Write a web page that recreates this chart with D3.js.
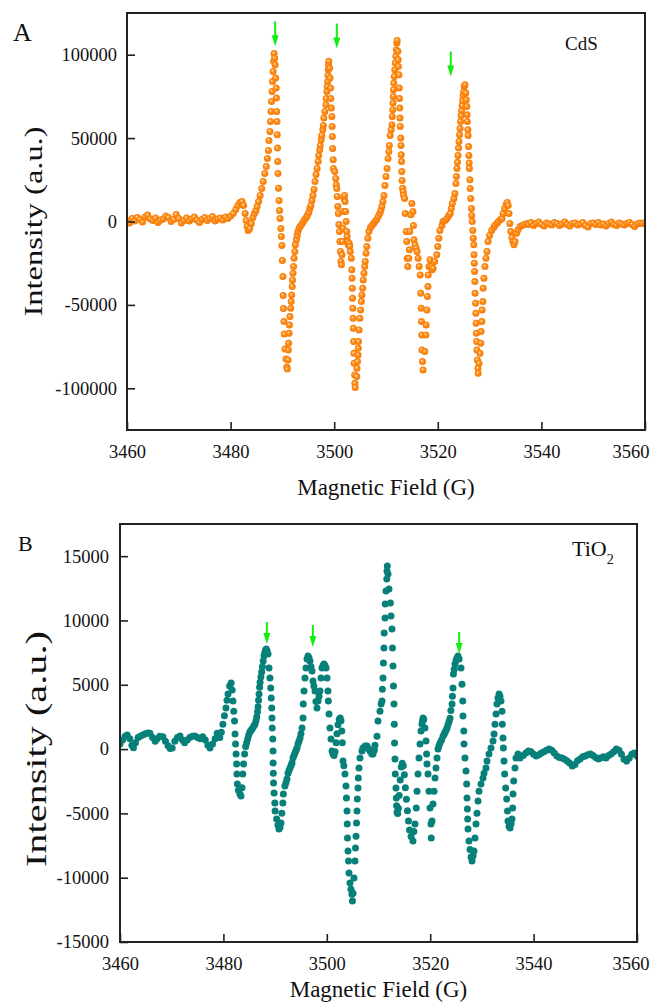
<!DOCTYPE html>
<html>
<head>
<meta charset="utf-8">
<script src="https://cdn.jsdelivr.net/npm/d3@7"></script>
<style>
  html, body { margin: 0; padding: 0; background: #fff; }
  svg text { font-family: "Liberation Serif", "Times New Roman", serif; fill: #111; }
</style>
</head>
<body>
<svg id="chart" width="651" height="1003"></svg>
<script>
// x axis (magnetic field, G)
var fieldTicks = [3460, 3480, 3500, 3520, 3540, 3560];

// panel A : CdS spectrum, [field (G), intensity (a.u.)]
var cdsTicks = [-100000, -50000, 0, 50000, 100000];
var cdsPoints = [
  [3460.0,600],[3460.5,-900],[3461.0,1800],[3461.5,300],[3462.0,2400],[3462.5,1200],[3463.0,-300],[3463.5,2700],
  [3464.0,3900],[3464.5,1500],[3465.0,600],[3465.5,2100],[3466.0,-600],[3466.5,900],[3467.0,1500],[3467.5,3300],
  [3468.0,2400],[3468.5,0],[3469.0,1200],[3469.5,4200],[3470.0,1800],[3470.5,-900],[3471.0,600],[3471.5,2100],
  [3472.0,300],[3472.5,1500],[3473.0,2700],[3473.5,900],[3474.0,-600],[3474.5,1200],[3475.0,2400],[3475.5,600],
  [3476.0,1800],[3476.5,3000],[3477.0,300],[3477.5,1500],[3478.0,2100],[3478.5,900],[3479.0,2700],[3479.5,1800],
  [3480.0,3300],[3480.5,4800],[3481.0,7200],
  [3481.4,9600],[3481.8,11400],[3482.2,12000],[3482.5,9600],[3482.8,4800],[3483.0,600],[3483.2,-3000],[3483.4,-5400],
  [3483.7,-4200],[3484.0,-1200],[3484.3,2400],[3484.6,4800],[3484.9,6600],[3485.1,9000],[3485.4,12000],[3485.7,15600],
  [3486.0,19800],[3486.3,24000],[3486.6,28800],[3486.9,33000],[3487.1,37800],[3487.3,42600],[3487.4,48600],[3487.6,54000],
  [3487.7,60000],[3487.8,66000],[3487.9,72000],[3488.0,78000],[3488.1,84000],[3488.2,90000],[3488.3,96000],[3488.4,100700],
  [3488.5,98000],[3488.6,94000],[3488.7,86000],[3488.8,80000],[3488.85,74000],[3488.9,66000],[3488.95,60000],[3489.0,52000],
  [3489.05,44000],[3489.1,36000],[3489.15,28800],[3489.25,20000],[3489.35,12600],[3489.45,6600],[3489.55,1800],[3489.7,-4200],
  [3489.8,-9000],[3489.9,-14400],[3490.0,-23400],[3490.1,-33000],[3490.15,-44400],[3490.2,-52200],[3490.3,-60000],[3490.35,-67500],
  [3490.5,-76500],[3490.7,-82500],[3490.85,-87300],[3490.95,-88500],
  [3491.1,-83000],[3491.15,-77000],[3491.2,-73000],[3491.3,-67000],[3491.35,-62000],[3491.45,-57000],[3491.6,-52000],[3491.7,-48000],
  [3491.8,-44000],[3491.9,-39000],[3491.95,-35000],[3492.05,-31000],[3492.15,-27000],[3492.25,-22000],[3492.4,-18000],[3492.5,-14000],
  [3492.7,-11000],[3492.85,-8400],[3493.0,-6000],[3493.2,-4200],[3493.4,-3000],[3493.7,-1800],[3494.0,-300],[3494.3,1200],
  [3494.6,2400],[3494.8,3600],[3495.1,5400],[3495.3,7800],[3495.5,9600],[3495.7,12600],[3495.9,15600],[3496.1,19200],
  [3496.3,24000],[3496.5,28200],[3496.7,31800],[3496.9,36000],[3497.0,39600],[3497.2,43000],[3497.3,45600],[3497.5,49000],
  [3497.6,51600],[3497.8,55000],[3497.9,57600],[3498.0,62000],[3498.2,66000],[3498.4,70000],[3498.45,73700],[3498.6,78000],
  [3498.65,81000],[3498.75,84000],[3498.8,87500],[3498.85,91000],[3498.9,94000],[3498.95,96000],
  [3499.1,92000],[3499.2,86000],[3499.3,80000],[3499.35,73700],[3499.45,68000],[3499.55,63000],[3499.6,57000],[3499.65,51000],
  [3499.7,43800],[3499.8,37000],[3499.85,31800],[3500.1,30000],[3500.3,25800],[3500.4,22000],[3500.5,19800],[3500.6,15000],
  [3500.7,9000],[3500.8,4800],[3500.9,-1800],[3501.0,-6000],[3501.1,-12000],[3501.2,-18000],[3501.3,-24000],[3501.4,-26000],
  [3501.5,-20000],[3501.6,-12000],[3501.7,-4000],[3501.8,6000],[3501.9,13800],[3502.0,15600],[3502.1,12000],[3502.2,6000],
  [3502.3,0],[3502.4,-6000],[3502.5,-9000],[3502.6,-12000],[3502.7,-14000],[3502.9,-13000],[3503.0,-15000],[3503.1,-18000],
  [3503.3,-22000],[3503.4,-29000],[3503.45,-34000],[3503.5,-40000],[3503.55,-46000],[3503.6,-52000],[3503.65,-58000],[3503.7,-64000],
  [3503.75,-72000],[3503.8,-79000],[3503.85,-85000],[3503.95,-92000],[3504.0,-97000],[3504.05,-99500],
  [3504.35,-93000],[3504.4,-88000],[3504.5,-84000],[3504.6,-80000],[3504.65,-76000],[3504.7,-72000],[3504.8,-65000],[3504.95,-58000],
  [3505.1,-53000],[3505.25,-48000],[3505.35,-44000],[3505.5,-40000],[3505.6,-35000],[3505.75,-31000],[3505.9,-27000],[3506.0,-24000],
  [3506.15,-19000],[3506.3,-15000],[3506.5,-10000],[3506.7,-6000],[3507.0,-3600],[3507.3,-2400],[3507.6,-1200],[3507.9,0],
  [3508.2,1200],[3508.5,3000],[3508.8,4800],[3509.0,6600],[3509.2,9000],[3509.4,12000],[3509.6,15600],[3509.8,21600],
  [3510.0,27000],[3510.2,31800],[3510.4,37800],[3510.55,42000],[3510.65,45600],[3510.8,51600],[3511.0,55000],[3511.15,58000],
  [3511.2,63000],[3511.3,67000],[3511.35,71000],[3511.4,75000],[3511.45,79000],[3511.5,83000],[3511.6,87000],[3511.7,91000],
  [3511.8,95000],[3511.9,99000],[3512.0,103000],[3512.1,107000],[3512.15,108500],
  [3512.3,102000],[3512.35,97000],[3512.4,93000],[3512.5,88000],[3512.55,80000],[3512.6,73700],[3512.65,68000],[3512.7,62000],
  [3512.75,57000],[3512.85,50000],[3512.9,45600],[3512.95,40000],[3513.0,36000],[3513.05,30000],[3513.1,24600],[3513.2,20000],
  [3513.3,18000],[3513.4,15600],[3513.6,13800],[3513.7,4800],[3513.9,-6000],[3514.0,-12000],[3514.1,-22000],[3514.2,-27000],
  [3514.4,-22000],[3514.5,-17000],[3514.6,-6000],[3514.8,4000],[3515.0,10800],[3515.2,6000],[3515.3,-2400],[3515.4,-11000],
  [3515.6,-14000],[3515.8,-16000],[3516.0,-18000],[3516.2,-22000],[3516.4,-27000],[3516.6,-32000],[3516.7,-43000],[3516.8,-52000],
  [3516.85,-60000],[3516.9,-68000],[3516.95,-77000],[3517.05,-84000],[3517.15,-89000],
  [3517.5,-78000],[3517.7,-68000],[3517.75,-62000],[3517.9,-53000],[3518.0,-45000],[3518.1,-39000],[3518.15,-32000],[3518.3,-27000],
  [3518.5,-23000],[3518.7,-27000],[3518.9,-29000],[3519.1,-28000],[3519.4,-24000],[3519.8,-20000],[3520.0,-15000],[3520.2,-10000],
  [3520.4,-5400],[3520.8,-2400],[3521.0,0],[3521.4,600],[3521.8,1800],[3522.1,3600],[3522.4,4800],[3522.6,7800],
  [3522.8,10800],[3523.1,13800],[3523.3,16800],[3523.5,22800],[3523.6,27000],[3523.7,31800],[3523.8,35500],[3523.9,39600],
  [3524.0,44000],[3524.1,48000],[3524.2,52000],[3524.3,55800],[3524.4,60000],[3524.5,63500],[3524.6,66500],[3524.7,69500],
  [3524.8,72500],[3524.9,75500],[3525.0,78000],[3525.1,81000],[3525.25,82000],
  [3525.4,77000],[3525.5,73000],[3525.6,69000],[3525.65,64000],[3525.7,60000],[3525.8,55000],[3525.85,51600],[3525.95,45000],
  [3526.0,39600],[3526.05,35000],[3526.1,31800],[3526.2,25000],[3526.25,19800],[3526.35,13800],[3526.5,7800],[3526.55,3600],
  [3526.65,0],[3526.75,-5400],[3526.85,-10000],[3526.95,-14000],[3527.0,-20000],[3527.05,-25000],[3527.1,-30000],[3527.15,-36000],
  [3527.2,-43000],[3527.3,-49000],[3527.35,-55000],[3527.4,-61000],[3527.45,-67000],[3527.5,-72000],[3527.55,-77000],[3527.65,-83000],
  [3527.75,-88000],[3527.8,-91000],
  [3527.95,-85000],[3528.15,-79000],[3528.3,-73000],[3528.35,-66000],[3528.5,-60000],[3528.55,-53000],[3528.7,-48000],[3528.75,-40000],
  [3528.9,-34000],[3529.1,-27000],[3529.3,-22000],[3529.5,-18000],[3529.7,-12000],[3530.0,-8400],[3530.4,-5400],[3530.8,-3600],
  [3531.0,-2400],[3531.4,-1200],[3531.7,0],[3532.1,1200],[3532.4,1800],[3532.6,4800],[3532.9,7800],[3533.2,10200],
  [3533.4,11400],[3533.6,9600],[3533.75,4800],[3533.9,-1200],[3534.1,-6000],[3534.3,-9600],[3534.5,-12000],[3534.7,-14000],
  [3534.9,-12000],[3535.2,-7000],[3535.5,-5000],[3535.9,-3000],[3536.3,-2400],[3536.7,-1800],[3537.2,-1200],
  [3537.5,-1800],[3538.0,-600],[3538.5,-2400],[3539.0,-1200],[3539.5,-300],[3540.0,-1800],[3540.5,-2700],[3541.0,-900],
  [3541.5,-1500],[3542.0,-2100],[3542.5,-600],[3543.0,-1200],[3543.5,-2400],[3544.0,-1500],[3544.5,-300],[3545.0,-1800],
  [3545.5,-2700],[3546.0,-1200],[3546.5,-900],[3547.0,-2100],[3547.5,-1500],[3548.0,-600],[3548.5,-2400],[3549.0,-3300],
  [3549.5,-1200],[3550.0,-900],[3550.5,-1800],[3551.0,-600],[3551.5,-2100],[3552.0,-1500],[3552.5,-2700],[3553.0,-1200],
  [3553.5,-300],[3554.0,-1800],[3554.5,-2400],[3555.0,-900],[3555.5,-1500],[3556.0,-2100],[3556.5,-1200],[3557.0,-600],
  [3557.5,-1800],[3558.0,-3000],[3558.5,-1500],[3559.0,-900],[3559.5,-1200],[3560.0,-600]
];
var cdsArrowField = [3488.6, 3500.5, 3522.5];
var cdsArrowTip = [105000, 103700, 86900];

// panel B : TiO2 spectrum, [field (G), intensity (a.u.)]
var tioTicks = [-15000, -10000, -5000, 0, 5000, 10000, 15000];
var tioPoints = [
  [3460.0,390],[3460.5,700],[3461.0,1000],[3461.4,1100],[3461.9,800],[3462.3,300],[3462.6,100],[3463.0,500],
  [3463.5,900],[3463.9,1000],[3464.4,1100],[3464.9,1200],[3465.4,1250],[3465.8,1240],[3466.3,900],[3466.8,600],
  [3467.2,800],[3467.7,1000],[3468.3,950],[3468.8,600],[3469.3,250],[3469.7,50],[3470.1,80],[3470.6,600],
  [3471.1,900],[3471.6,1010],[3472.1,700],[3472.5,500],[3473.0,700],[3473.5,900],[3474.0,1000],[3474.5,1010],
  [3475.0,900],[3475.5,800],[3476.0,950],[3476.5,700],[3477.0,300],[3477.4,80],[3477.9,400],[3478.4,800],
  [3478.8,1240],[3479.3,900],
  [3479.6,1300],[3479.9,1940],[3480.2,2600],[3480.5,3200],[3480.7,3800],[3480.9,4280],[3481.2,4900],[3481.5,5130],
  [3481.7,4600],[3481.85,3730],[3482.0,2950],[3482.15,2180],[3482.25,1170],[3482.35,390],[3482.45,-390],[3482.55,-1170],
  [3482.62,-1940],[3482.7,-2720],[3482.9,-3200],[3483.2,-3500],[3483.4,-3650],[3483.6,-3000],[3483.75,-1940],[3483.9,-1170],
  [3484.1,-390],[3484.3,200],[3484.5,500],[3484.7,800],[3484.9,1100],[3485.1,1300],[3485.3,1450],[3485.5,1550],
  [3485.7,1650],[3485.9,1800],[3486.1,1940],[3486.3,2200],[3486.45,2500],[3486.6,2900],[3486.7,3300],[3486.8,3800],
  [3486.9,4280],[3487.0,4800],[3487.1,5200],[3487.25,5600],[3487.4,6000],[3487.55,6400],[3487.7,6840],[3487.85,7250],
  [3488.0,7500],[3488.15,7700],[3488.3,7780],[3488.45,7650],[3488.63,7390],[3488.82,6300],[3489.0,5520],[3489.15,4740],
  [3489.25,3970],[3489.35,3190],[3489.4,2410],[3489.45,1630],[3489.55,780],[3489.6,-150],[3489.62,-1090],[3489.65,-1870],
  [3489.7,-2640],[3489.8,-3420],[3489.95,-4200],[3490.0,-4820],[3490.3,-5440],[3490.55,-5900],[3490.75,-6220],[3490.95,-6100],
  [3491.14,-5750],[3491.3,-4980],[3491.5,-4200],[3491.6,-3500],[3491.9,-2880],[3492.1,-2600],[3492.3,-2330],[3492.5,-1870],
  [3492.7,-1650],[3492.9,-1480],[3493.1,-1250],[3493.27,-1090],[3493.46,-700],[3493.65,-500],[3493.85,-310],[3494.05,-100],
  [3494.24,80],[3494.43,390],[3494.62,600],[3494.82,860],[3495.0,1200],[3495.2,1630],[3495.4,2410],[3495.45,3500],
  [3495.59,4510],[3495.78,5520],[3495.98,6300],[3496.17,7000],[3496.36,7230],[3496.55,7100],[3496.75,6840],[3496.95,6400],
  [3497.14,6070],[3497.33,5290],[3497.5,4900],[3497.72,4510],[3497.9,3700],[3498.1,3190],[3498.3,3730],[3498.5,4100],
  [3498.68,4510],[3498.88,5520],[3499.07,6300],[3499.27,6500],[3499.46,6610],[3499.65,6500],[3499.85,6300],[3500.04,5520],
  [3500.23,4510],[3500.3,3730],[3500.43,2720],[3500.62,1630],[3500.81,780],[3501.01,-150],[3501.2,-390],[3501.4,-500],
  [3501.6,-200],[3501.8,500],[3501.97,1200],[3502.17,1900],[3502.4,2300],[3502.6,2410],[3502.75,2200],[3502.9,1400],
  [3503.0,500],[3503.13,-930],[3503.3,-1300],[3503.52,-1940],[3503.71,-2880],[3503.8,-3810],[3503.91,-4820],[3503.95,-5830],
  [3504.0,-6920],[3504.1,-7930],[3504.2,-8710],[3504.29,-9640],[3504.49,-10420],[3504.68,-10890],[3504.87,-11280],[3504.95,-11820],
  [3505.07,-11200],[3505.26,-10030],[3505.45,-8710],[3505.55,-7700],[3505.65,-6770],[3505.75,-5750],[3505.84,-4820],[3505.9,-3890],
  [3506.03,-3030],[3506.1,-2250],[3506.23,-1480],[3506.42,-700],[3506.81,-150],[3507.0,80],[3507.4,230],[3507.78,230],
  [3508.1,0],[3508.36,-150],[3508.7,-390],[3508.94,-390],[3509.2,-100],[3509.32,300],[3509.71,1000],[3509.9,2180],
  [3510.29,2950],[3510.5,3500],[3510.68,3730],[3510.75,4660],[3510.87,5520],[3510.95,6690],[3511.06,7850],[3511.1,9020],
  [3511.26,10190],[3511.3,11280],[3511.45,12290],[3511.6,13220],[3511.64,13840],[3511.7,14230],[3511.84,13610],[3512.03,12440],
  [3512.3,11350],[3512.42,10340],[3512.61,9330],[3512.7,7850],[3512.8,6450],[3512.9,4900],[3513.0,3500],[3513.05,1940],
  [3513.1,470],[3513.19,-780],[3513.25,-1940],[3513.38,-3030],[3513.45,-3810],[3513.5,-4400],[3513.58,-4900],[3513.7,-5000],
  [3513.85,-4600],[3514.0,-3600],[3514.2,-2400],[3514.4,-1400],[3514.6,-1100],[3514.8,-1300],[3515.0,-2000],[3515.2,-3000],
  [3515.4,-3900],[3515.6,-4800],[3515.8,-5600],[3516.0,-6300],[3516.3,-6800],[3516.67,-7150],[3516.85,-6400],[3517.06,-5830],
  [3517.3,-4590],[3517.45,-3270],[3517.64,-1940],[3517.83,-700],[3518.03,390],[3518.22,1400],[3518.41,1940],[3518.5,2180],
  [3518.61,2410],[3518.75,2300],[3518.99,1630],[3519.19,620],[3519.3,-390],[3519.38,-1170],[3519.57,-1940],[3519.77,-3270],
  [3519.96,-4590],[3520.15,-5830],[3520.2,-6920],[3520.35,-5600],[3520.54,-4280],[3520.74,-3270],[3520.93,-2250],[3521.12,-1480],
  [3521.32,-700],[3521.51,0],[3521.7,250],[3521.9,470],[3522.2,700],[3522.48,1000],[3522.7,1150],[3522.86,1300],
  [3523.05,1450],[3523.25,1630],[3523.44,1900],[3523.65,2150],[3523.83,2400],[3524.0,3000],[3524.22,3500],[3524.3,4100],
  [3524.41,4740],[3524.5,5830],[3524.65,6200],[3524.8,6610],[3525.0,6900],[3525.18,7080],[3525.38,7230],[3525.6,7000],
  [3525.96,6300],[3526.15,5050],[3526.3,3730],[3526.34,2570],[3526.5,1400],[3526.54,390],[3526.73,-700],[3526.92,-1710],
  [3527.05,-2720],[3527.12,-3810],[3527.2,-4660],[3527.25,-5440],[3527.31,-6220],[3527.5,-7150],[3527.7,-7800],[3527.9,-8400],
  [3528.09,-8710],[3528.3,-8300],[3528.47,-7930],[3528.67,-6920],[3528.86,-5830],[3529.05,-4980],[3529.25,-4040],[3529.44,-3270],
  [3529.83,-2720],[3530.21,-2250],[3530.41,-1870],[3530.79,-1480],[3530.99,-930],[3531.37,-390],[3531.76,80],[3532.15,620],
  [3532.35,1170],[3532.53,1940],[3532.73,2720],[3532.92,3500],[3533.11,3970],[3533.31,4280],[3533.5,4100],[3533.69,3730],
  [3533.89,2950],[3533.95,1940],[3534.08,860],[3534.15,80],[3534.27,-930],[3534.4,-1940],[3534.6,-3030],[3534.8,-3890],
  [3534.95,-4820],[3535.05,-5600],[3535.25,-6000],[3535.44,-6140],[3535.65,-5800],[3535.82,-5440],[3535.95,-4590],[3536.02,-3500],
  [3536.15,-2490],[3536.4,-1480],[3536.6,-700],[3536.98,-390],[3537.37,-700],
  [3538.0,-500],[3538.5,-300],[3539.0,-150],[3539.5,-200],[3540.0,-400],[3540.5,-540],[3541.0,-450],[3541.5,-300],
  [3542.0,-200],[3542.5,-100],[3543.0,0],[3543.5,-100],[3544.0,-300],[3544.5,-540],[3545.0,-650],[3545.5,-700],
  [3546.0,-800],[3546.5,-930],[3547.0,-1100],[3547.5,-1320],[3548.0,-1200],[3548.5,-900],[3549.0,-780],[3549.5,-600],
  [3550.0,-540],[3550.5,-450],[3551.0,-390],[3551.5,-500],[3552.0,-650],[3552.5,-780],[3553.0,-700],[3553.5,-600],
  [3554.0,-700],[3554.5,-500],[3555.0,-390],[3555.5,-200],[3556.0,0],[3556.5,-100],[3557.0,-400],[3557.5,-800],
  [3558.0,-930],[3558.5,-700],[3559.0,-400],[3559.5,-300],[3560.0,-540]
];
var tioArrowField = [3488.4, 3497.3, 3525.6];
var tioArrowTip = [8165, 7930, 7390];


var svg = d3.select('#chart');

// shaded orange balls for the CdS markers
var grad = svg.append('defs').append('radialGradient')
  .attr('id', 'ball')
  .attr('cx', '50%').attr('cy', '50%').attr('r', '50%')
  .attr('fx', '38%').attr('fy', '35%');
grad.append('stop').attr('offset', '0%').attr('stop-color', '#fff6ea');
grad.append('stop').attr('offset', '25%').attr('stop-color', '#ffae55');
grad.append('stop').attr('offset', '55%').attr('stop-color', '#ff8a14');
grad.append('stop').attr('offset', '100%').attr('stop-color', '#f27a08');


function drawPanel(_p) {
  var x = d3.scaleLinear().domain([3460, 3560]).range([_p.left, _p.right]);
  var y = d3.scaleLinear().domain(_p.yDomain).range([_p.bottom, _p.top]);

  var g = svg.append('g');

  g.append('clipPath')
    .attr('id', _p.id + '-clip')
    .append('rect')
    .attr('x', _p.left).attr('y', _p.top)
    .attr('width', _p.right - _p.left)
    .attr('height', _p.bottom - _p.top);

  g.append('g')
    .attr('clip-path', 'url(#' + _p.id + '-clip)')
    .selectAll('circle')
    .data(_p.points)
    .enter()
    .append('circle')
    .attr('cx', function(d) { return x(d[0]); })
    .attr('cy', function(d) { return y(d[1]); })
    .attr('r', _p.radius)
    .attr('fill', _p.fill);

  // axes, ticks pointing inward
  var xAxis = g.append('g')
    .attr('transform', 'translate(0,' + _p.bottom + ')')
    .call(d3.axisBottom(x)
      .tickValues(fieldTicks)
      .tickSizeInner(-8).tickSizeOuter(0)
      .tickPadding(15)
      .tickFormat(function(d) { return String(d); }));

  var yAxis = g.append('g')
    .attr('transform', 'translate(' + _p.left + ',0)')
    .call(d3.axisLeft(y)
      .tickValues(_p.yTicks)
      .tickSizeInner(-8).tickSizeOuter(0)
      .tickPadding(_p.yPad)
      .tickFormat(function(d) { return String(d); }));

  [xAxis, yAxis].forEach(function(ax) {
    ax.select('.domain').remove();
    ax.selectAll('line').attr('stroke', '#222').attr('stroke-width', 1.6);
    ax.selectAll('text')
      .attr('fill', '#111')
      .style('font-size', '18.5px')
      .style('font-family', '"Liberation Serif", "Times New Roman", serif');
  });

  // last field label is pulled in so it stays inside the page
  xAxis.selectAll('.tick text')
    .filter(function(d) { return d === 3560; })
    .attr('text-anchor', 'end')
    .attr('x', 649 - _p.right);

  g.append('rect')
    .attr('x', _p.left).attr('y', _p.top)
    .attr('width', _p.right - _p.left)
    .attr('height', _p.bottom - _p.top)
    .attr('fill', 'none')
    .attr('stroke', '#222')
    .attr('stroke-width', 2);

  // green arrows
  _p.arrowField.forEach(function(f, i) {
    var ax = x(f), tip = y(_p.arrowTip[i]);
    g.append('line')
      .attr('x1', ax).attr('x2', ax)
      .attr('y1', tip - _p.arrowLen).attr('y2', tip - 8)
      .attr('stroke', '#12ee12')
      .attr('stroke-width', 2);
    g.append('path')
      .attr('d', 'M' + (ax - 3.5) + ',' + (tip - 11) + 'L' + (ax + 3.5) + ',' + (tip - 11) + 'L' + ax + ',' + tip + 'Z')
      .attr('fill', '#12ee12');
  });

  g.append('text')
    .attr('x', (_p.left + _p.right) / 2)
    .attr('y', _p.xTitleY)
    .attr('text-anchor', 'middle')
    .style('font-size', '23px')
    .text('Magnetic Field (G)');

  g.append('text')
    .attr('transform', 'translate(' + _p.yTitleX + ',' + y(0) + ') rotate(-90)')
    .attr('text-anchor', 'middle')
    .attr('textLength', _p.yTitleLen)
    .attr('lengthAdjust', 'spacingAndGlyphs')
    .style('font-size', _p.yTitleSize + 'px')
    .text('Intensity (a.u.)');

  g.append('text')
    .attr('x', _p.letterX).attr('y', _p.letterY)
    .style('font-size', _p.letterSize + 'px')
    .text(_p.letter);

  return g;
}

var panelA = drawPanel({
  id: 'cds', left: 127, right: 645, top: 13, bottom: 430,
  yDomain: [-125000, 125000], yTicks: cdsTicks, yPad: 10,
  points: cdsPoints, radius: 3.5, fill: 'url(#ball)',
  arrowField: cdsArrowField, arrowTip: cdsArrowTip, arrowLen: 25,
  xTitleY: 495, yTitleX: 42, yTitleLen: 190, yTitleSize: 26,
  letter: 'A', letterX: 13, letterY: 41, letterSize: 26
});

panelA.append('text')
  .attr('x', 565).attr('y', 50)
  .style('font-size', '19px')
  .text('CdS');

var panelB = drawPanel({
  id: 'tio', left: 120, right: 637, top: 524, bottom: 942,
  yDomain: [-15000, 17500], yTicks: tioTicks, yPad: 11,
  points: tioPoints, radius: 3.5, fill: '#078079',
  arrowField: tioArrowField, arrowTip: tioArrowTip, arrowLen: 22,
  xTitleY: 997, yTitleX: 46, yTitleLen: 236, yTitleSize: 29,
  letter: 'B', letterX: 18, letterY: 551, letterSize: 22
});

var tiLabel = panelB.append('text')
  .attr('x', 572).attr('y', 556)
  .style('font-size', '22px');
tiLabel.append('tspan').text('TiO');
tiLabel.append('tspan')
  .attr('dy', 8)
  .style('font-size', '14px')
  .text('2');
</script>
</body>
</html>
